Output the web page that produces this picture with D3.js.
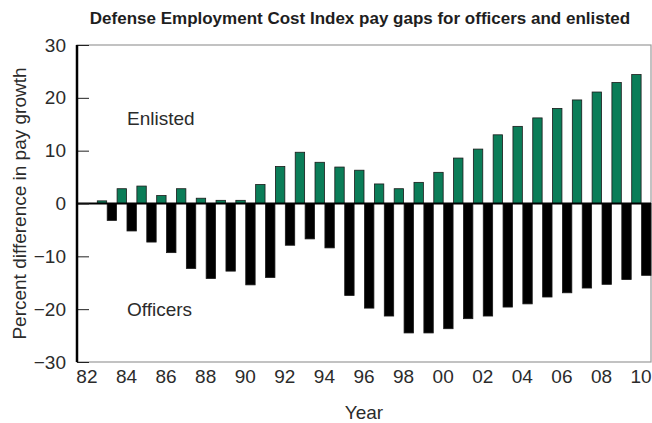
<!DOCTYPE html>
<html lang="en">
<head>
    <meta charset="UTF-8">
    <title>Defense Employment Cost Index pay gaps</title>
    <script src="https://cdn.jsdelivr.net/npm/d3@7"></script>
    <style>
        body{
            margin: 0;
            background: white;
        }
        svg text{
            font-family: "Liberation Sans", Arial, sans-serif;
            fill: #2b2b2b;
        }
        .title{
            font-size: 17px;
            font-weight: bold;
            fill: #1e1e1e;
        }
        .yAxis text, .xAxis text{
            font-size: 19px;
        }
        .yAxis path, .xAxis path{
            display: none;
        }
        .label{
            font-size: 19px;
        }
    </style>
</head>
<body>
<svg id="main" width="652" height="423"></svg>
<script>
    const width = 652, height = 423
    const margin = {top: 45, bottom: 61, left: 77, right: 1}

    // data
    const years = ['82','83','84','85','86','87','88','89','90','91','92','93','94','95','96','97','98','99',
        '00','01','02','03','04','05','06','07','08','09','10']
    const enlisted = [0, 0.5, 2.8, 3.3, 1.5, 2.8, 1.0, 0.6, 0.6, 3.6, 7.0, 9.7, 7.8, 6.9, 6.3, 3.7, 2.8, 4.0,
        5.9, 8.6, 10.3, 13.0, 14.6, 16.2, 18.0, 19.6, 21.1, 22.9, 24.4]
    const officers = [0, -3.2, -5.2, -7.3, -9.3, -12.3, -14.2, -12.8, -15.4, -14.0, -7.9, -6.7, -8.4, -17.4, -19.8, -21.3, -24.5, -24.5,
        -23.7, -21.8, -21.3, -19.6, -19.0, -17.7, -16.9, -16.0, -15.3, -14.4, -13.6]
    const yTicks = [-30, -20, -10, 0, 10, 20, 30]
    const xTicks = ['82','84','86','88','90','92','94','96','98','00','02','04','06','08','10']

    const groups = ['Enlisted', 'Officers']
    const colors = {Enlisted: '#0b7d58', Officers: '#000000'}

    const data = years.map((y, i) => ({year: y, Enlisted: enlisted[i], Officers: officers[i]}))

    const svg = d3.select('svg#main')

    const xScale = d3.scaleBand()
        .domain(years)
        .range([margin.left, width - margin.right])
    const xInner = d3.scaleBand()
        .domain(groups)
        .range([0, xScale.bandwidth()])
    const yScale = d3.scaleLinear()
        .domain([-30, 30])
        .range([height - margin.bottom, margin.top])

    // title
    svg.append('text')
        .attr('class', 'title')
        .attr('x', 360)
        .attr('y', 24)
        .attr('text-anchor', 'middle')
        .text('Defense Employment Cost Index pay gaps for officers and enlisted')

    // frame (top, right, bottom)
    svg.append('rect')
        .attr('x', margin.left)
        .attr('y', margin.top)
        .attr('width', width - margin.right - margin.left)
        .attr('height', height - margin.bottom - margin.top)
        .attr('fill', 'none')
        .attr('stroke', '#9a9a9a')
        .attr('stroke-width', 1.2)

    // bars
    const bars = svg.append('g').attr('class', 'bars')
        .selectAll('g')
        .data(data)
        .enter().append('g')
        .attr('transform', d => `translate(${xScale(d.year)},0)`)
    bars.selectAll('rect')
        .data(d => groups.map(k => ({key: k, value: d[k]})))
        .enter().append('rect')
        .filter(d => d.value !== 0)
        .attr('x', d => xInner(d.key) + 0.5)
        .attr('width', xInner.bandwidth() - 0.5)
        .attr('y', d => yScale(Math.max(0, d.value)))
        .attr('height', d => Math.abs(yScale(d.value) - yScale(0)))
        .attr('fill', d => colors[d.key])
        .attr('stroke', '#1a1a1a')
        .attr('stroke-width', 0.8)

    // zero line
    svg.append('line')
        .attr('x1', margin.left)
        .attr('x2', width - margin.right)
        .attr('y1', yScale(0))
        .attr('y2', yScale(0))
        .attr('stroke', 'black')
        .attr('stroke-width', 2)

    // y axis with inward ticks
    const yAxisGroup = svg.append('g')
        .attr('class', 'yAxis')
        .attr('transform', `translate(${margin.left},0)`)
    yAxisGroup.call(d3.axisLeft(yScale).tickValues(yTicks).tickSize(-12).tickPadding(11))
    yAxisGroup.selectAll('.tick line').attr('stroke', '#222').attr('stroke-width', 1)
    svg.append('line')
        .attr('x1', margin.left)
        .attr('x2', margin.left)
        .attr('y1', margin.top)
        .attr('y2', height - margin.bottom)
        .attr('stroke', 'black')
        .attr('stroke-width', 2.5)

    // x axis
    svg.append('g')
        .attr('class', 'xAxis')
        .attr('transform', `translate(0,${height - margin.bottom})`)
        .call(d3.axisBottom(xScale).tickValues(xTicks).tickSize(0).tickPadding(8))

    // axis titles
    svg.append('text')
        .attr('class', 'label')
        .attr('x', xScale('96') + xScale.bandwidth() / 2)
        .attr('y', 419)
        .attr('text-anchor', 'middle')
        .text('Year')
    svg.append('text')
        .attr('class', 'label')
        .attr('transform', `translate(26,${yScale(0)}) rotate(-90)`)
        .attr('text-anchor', 'middle')
        .text('Percent difference in pay growth')

    // series labels
    svg.append('text')
        .attr('class', 'label')
        .attr('x', 127)
        .attr('y', yScale(14.9))
        .text('Enlisted')
    svg.append('text')
        .attr('class', 'label')
        .attr('x', 127)
        .attr('y', yScale(-21.3))
        .text('Officers')
</script>
</body>
</html>
